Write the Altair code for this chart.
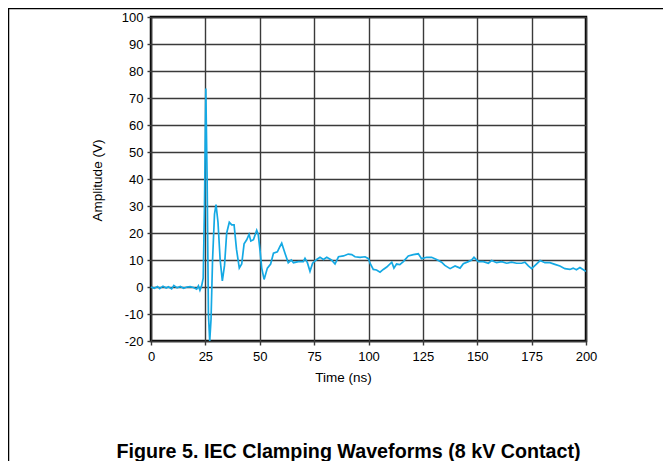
import altair as alt
import pandas as pd

time_ns = [0, 1.5, 3, 4, 5.5, 7, 8, 9.5, 10.5, 12, 13.5, 15, 16.5, 18, 19.5, 21, 21.8, 22.5, 23.3, 24,
           24.6, 25.2, 25.8, 26.4, 27, 27.6, 28.3, 29.2, 29.9, 30.8, 31.8, 32.8, 33.8, 34.8, 36, 37.1,
           38.2, 39.3, 40.6, 41.7, 42.8, 44, 45.1, 45.9, 47.1, 48.6, 49.3, 50.2, 50.9, 52, 53.5, 55,
           56.3, 58.1, 59.3, 60.1, 61.6, 63.1, 64.5, 65.5, 67.7, 70, 70.8, 71.9, 73.1, 74.3, 76.2, 77.7,
           79.3, 80.8, 83.1, 84.6, 86.2, 88.5, 90.7, 92.3, 93.8, 96.1, 98.4, 100, 100.7, 102.2, 103.7,
           105.3, 106.8, 108.4, 110.7, 111.7, 112.9, 114.4, 116, 118.3, 120.6, 122.9, 124.4, 126.7, 129,
           131.3, 133.6, 135.1, 137.5, 139.8, 142.1, 143.6, 145.9, 147.4, 148.5, 150.5, 152.8, 155.1,
           156.6, 158.9, 161.2, 163.5, 165.8, 168.1, 170.4, 171.9, 173.5, 175, 176.6, 178.9, 181.1,
           183.4, 185.7, 188, 190.3, 192.6, 194.1, 195.6, 197.2, 199.5, 200]
amplitude_v = [0, -0.5, 0.2, -0.6, 0.3, -0.4, 0.1, -0.7, 0.6, -0.3, 0.2, -0.5, 0, 0.1, -0.2, -0.8, 0.4, -1.2, 0.5, 3.3,
               30, 73.5, 40, -10, -20, -12, 10, 27, 30.5, 24, 10, 2.3, 8, 20, 24, 23,
               23, 14, 7, 8.5, 16, 17.5, 19.5, 17, 17.5, 21, 19.5, 13, 7, 2.8, 7, 8.5,
               12.5, 13, 15, 16.2, 12.5, 9, 10, 9, 9.4, 9.4, 10.6, 9, 5.8, 8.8, 10.2, 11,
               10.2, 11, 9.9, 8.5, 11.2, 11.5, 12.2, 12, 11.2, 11, 11.2, 10.5, 8.8, 6.5, 6.3,
               5.5, 6.5, 7.4, 9.2, 7, 8.5, 8.3, 9.4, 11.5, 12, 12.3, 10.5, 11, 11,
               10.2, 9.2, 8, 6.8, 7.8, 7, 8.6, 9.4, 10, 11, 9.4, 9.4, 8.8,
               9.8, 9, 9.4, 8.8, 9.2, 8.8, 8.8, 9.2, 7.8, 6.8, 8, 9.8, 9,
               9, 8.4, 7.8, 6.8, 6.5, 7, 6.4, 7.2, 6, 5.8]

x_ticks = [0, 25, 50, 75, 100, 125, 150, 175, 200]
y_ticks = [-20, -10, 0, 10, 20, 30, 40, 50, 60, 70, 80, 90, 100]
caption = ["Figure 5. IEC Clamping Waveforms (8 kV Contact)"]

df = pd.DataFrame({"t": time_ns, "v": amplitude_v})

FONT = "Liberation Sans"
GRID = "#3a3a3a"

line = alt.Chart(df).mark_line(color="#14a9e4", strokeWidth=1.7, clip=True).encode(
    x=alt.X("t:Q", scale=alt.Scale(domain=[0, 200], nice=False),
            axis=alt.Axis(values=x_ticks, title="Time (ns)", grid=True, gridColor=GRID, gridWidth=1.4,
                          gridOpacity=1, domain=False, tickColor=GRID, tickSize=4, tickWidth=1.4,
                          labelFont=FONT, labelFontSize=13, labelColor="black", labelPadding=5,
                          labelFlush=False, labelExpr="datum.value + ''",
                          titleFont=FONT, titleFontSize=13.5, titleFontWeight="normal", titleColor="black",
                          titleX=192, titleY=36, titleBaseline="middle", titleAlign="center")),
    y=alt.Y("v:Q", scale=alt.Scale(domain=[-20, 100], nice=False),
            axis=alt.Axis(values=y_ticks, title="Amplitude (V)", grid=True, gridColor=GRID, gridWidth=1.4,
                          gridOpacity=1, domain=False, tickColor=GRID, tickSize=4, tickWidth=1.4,
                          labelFont=FONT, labelFontSize=13, labelColor="black", labelPadding=4,
                          labelFlush=False, labelExpr="datum.value + ''",
                          titleFont=FONT, titleFontSize=13.5, titleFontWeight="normal", titleColor="black",
                          titleX=-54, titleY=163, titleBaseline="middle", titleAlign="center", titleAngle=-90)),
)

frame_df = pd.DataFrame({"caption": caption})
top_rule = alt.Chart(frame_df).mark_rule(color="black", strokeWidth=1.5).encode(
    x=alt.value(-143), x2=alt.value(512), y=alt.value(-8.5))
left_rule = alt.Chart(frame_df).mark_rule(color="black", strokeWidth=1.5).encode(
    x=alt.value(-142.5), y=alt.value(-9), y2=alt.value(447))
title_text = alt.Chart(frame_df).mark_text(
    font=FONT, fontSize=19.7, fontWeight="bold", color="black", align="center", baseline="middle"
).encode(text="caption:N", x=alt.value(197.5), y=alt.value(435))

chart = alt.layer(line, top_rule, left_rule, title_text).properties(
    width=435, height=324,
    autosize=alt.AutoSizeParams(type="none"),
    padding={"left": 143, "top": 9, "right": 77, "bottom": 120},
).configure_view(stroke="black", strokeWidth=2.5)

chart.save("out.html", embed_options={"renderer": "svg", "actions": False})
